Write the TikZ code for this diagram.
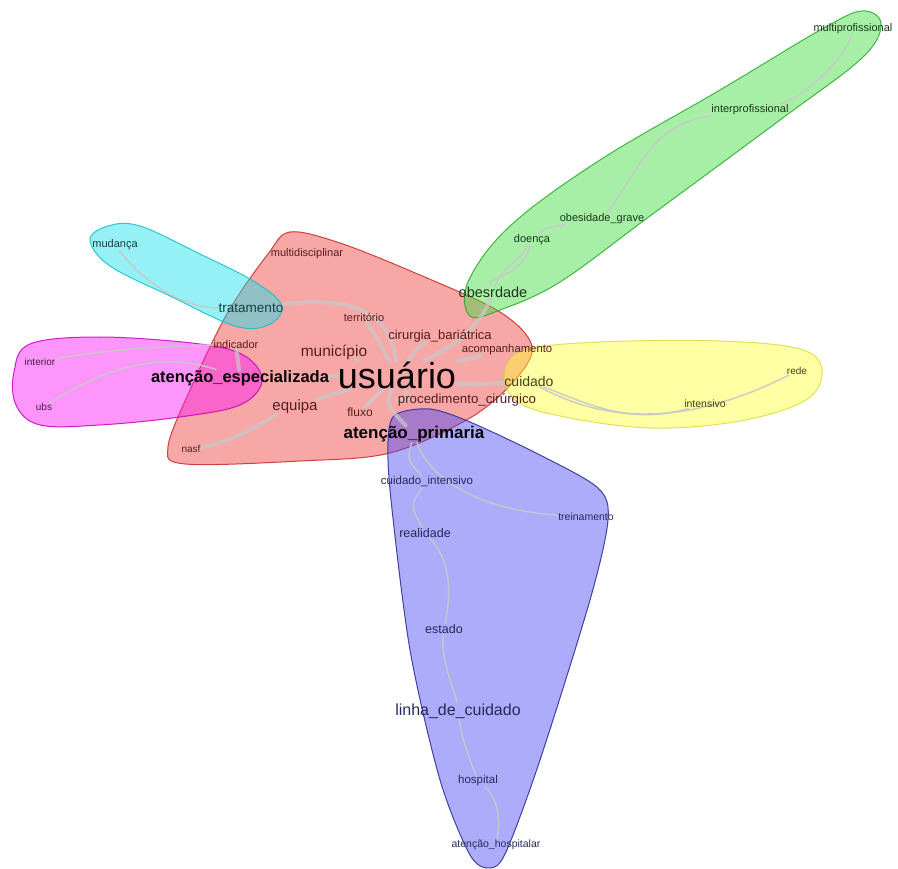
\documentclass[tikz,border=0pt]{standalone}
\usepackage{fontspec}
\setmainfont{Liberation Sans}
\pgfdeclarelayer{hull}
\pgfdeclarelayer{edge}
\pgfsetlayers{hull,edge,main}
\definecolor{redF}{RGB}{240,60,60}
\definecolor{redD}{RGB}{200,40,40}
\definecolor{cyanF}{RGB}{20,225,235}
\definecolor{cyanD}{RGB}{20,190,200}
\definecolor{magF}{RGB}{250,20,245}
\definecolor{magD}{RGB}{200,0,190}
\definecolor{greenF}{RGB}{60,220,60}
\definecolor{greenD}{RGB}{40,170,40}
\definecolor{yelF}{RGB}{255,255,50}
\definecolor{yelD}{RGB}{220,220,60}
\definecolor{bluF}{RGB}{70,70,245}
\definecolor{bluD}{RGB}{40,40,150}
\definecolor{edg}{RGB}{200,200,200}
\definecolor{tRed}{RGB}{85,30,30}
\definecolor{tGreen}{RGB}{25,55,25}
\definecolor{tBlue}{RGB}{40,40,90}
\definecolor{tYel}{RGB}{65,65,25}
\definecolor{tMag}{RGB}{75,25,75}
\definecolor{tCyan}{RGB}{25,65,65}
\tikzset{
  lbl/.style={inner sep=0.5pt},
  fs/.style={font=\fontsize{#1}{#1}\selectfont},
  fsb/.style={font=\fontsize{#1}{#1}\selectfont\bfseries},
  hullbase/.style={line width=1pt, fill opacity=0.45, draw opacity=0.85},
  thickedge/.style={draw=edg, line width=4pt, line cap=round, draw opacity=0.7},
  thinedge/.style={draw=edg, line width=1.5pt, line cap=round, draw opacity=0.9}
}
\begin{document}
\begin{tikzpicture}[x=1pt,y=-1pt]
\useasboundingbox (0,0) rectangle (898,869);
% ---- labels ----
\node[lbl,fs=11,tGreen] (multip) at (853,29) {multiprofissional};
\node[lbl,fs=11,tGreen] (interp) at (750,110) {interprofissional};
\node[lbl,fs=11,tGreen] (obgr) at (602,219) {obesidade\_grave};
\node[lbl,fs=11,tGreen] (doenca) at (532,240) {doença};
\node[lbl,fs=14.5,tGreen] (obes) at (493,292) {obesrdade};
\node[lbl,fs=11,tRed] (multi) at (307,254) {multidisciplinar};
\node[lbl,fs=11,tCyan] (mud) at (115,245) {mudança};
\node[lbl,fs=13.5,tCyan] (trat) at (251,308) {tratamento};
\node[lbl,fs=11,tRed] (terr) at (364,318) {território};
\node[lbl,fs=13,tRed] (cirb) at (440,336) {cirurgia\_bariátrica};
\node[lbl,fs=11.3,tRed] (acomp) at (507,350) {acompanhamento};
\node[lbl,fs=11,tRed] (indic) at (236,345) {indicador};
\node[lbl,fs=15.5,tRed] (munic) at (334,352) {município};
\node[lbl,fsb=16.5,black!90!tMag] (aesp) at (240,378) {atenção\_especializada};
\node[lbl,fs=36,black!90!tRed] (usu) at (397,375) {usuário};
\node[lbl,fs=10,tMag] (inter) at (40,362) {interior};
\node[lbl,fs=10,tMag] (ubs) at (44,407) {ubs};
\node[lbl,fs=15,tRed] (equipa) at (295,407) {equipa};
\node[lbl,fs=12,tRed] (fluxo) at (360,412) {fluxo};
\node[lbl,fs=13.3,tRed] (proc) at (467,400) {procedimento\_cirúrgico};
\node[lbl,fs=14,tYel] (cuid) at (529,381) {cuidado};
\node[lbl,fs=10,tYel] (rede) at (797,371) {rede};
\node[lbl,fs=10.5,tYel] (intens) at (705,404) {intensivo};
\node[lbl,fsb=17,black!90!tBlue] (aprim) at (414,434) {atenção\_primaria};
\node[lbl,fs=10,tRed] (nasf) at (191,449) {nasf};
\node[lbl,fs=11.5,tBlue] (cint) at (427,481) {cuidado\_intensivo};
\node[lbl,fs=10.5,tBlue] (trein) at (586,517) {treinamento};
\node[lbl,fs=12.5,tBlue] (real) at (425,533) {realidade};
\node[lbl,fs=12.5,tBlue] (estado) at (444,629) {estado};
\node[lbl,fs=16,tBlue] (linha) at (458,711) {linha\_de\_cuidado};
\node[lbl,fs=11.5,tBlue] (hosp) at (478,781) {hospital};
\node[lbl,fs=10.5,tBlue] (ahosp) at (496,845) {atenção\_hospitalar};
% ---- hulls ----
\begin{pgfonlayer}{hull}
\path[hullbase,fill=redF,draw=redD] plot[smooth cycle,tension=0.55] coordinates {
 (290,232) (340,243) (420,275) (500,312) (532,346) (515,380) (470,418) (390,453)
 (300,461) (185,464) (168,447) (190,390) (228,312) (268,254)};
\path[hullbase,fill=cyanF,draw=cyanD] plot[smooth cycle,tension=0.6] coordinates {
 (90,240) (108,226) (140,226) (200,254) (255,282) (282,306) (268,325) (235,326) (170,296) (110,266)};
\path[hullbase,fill=magF,draw=magD] plot[smooth cycle,tension=0.6] coordinates {
 (14,372) (30,344) (100,337) (200,344) (245,356) (262,381) (240,405) (180,417) (100,425) (40,425) (16,405)};
\path[hullbase,fill=greenF,draw=greenD] plot[smooth cycle,tension=0.6] coordinates {
 (470,316) (468,282) (510,226) (600,160) (720,90) (822,29) (862,11) (881,24) (862,58) (780,120) (650,216) (560,282) (500,310)};
\path[hullbase,fill=yelF,draw=yelD] plot[smooth cycle,tension=0.6] coordinates {
 (505,372) (525,350) (600,342) (720,341) (800,349) (822,370) (806,400) (740,421) (650,428) (560,416) (515,400)};
\path[hullbase,fill=bluF,draw=bluD] plot[smooth cycle,tension=0.5] coordinates {
 (388,442) (395,415) (430,409) (470,422) (540,455) (598,488) (608,520) (590,600) (540,760)
 (506,852) (490,868) (470,855) (440,780) (410,650) (391,500)};
\end{pgfonlayer}
% ---- edges ----
\begin{pgfonlayer}{edge}
\draw[thickedge] (aesp) -- (usu);
\draw[thickedge] (trat) .. controls (320,300) and (390,296) .. (usu);
\draw[thickedge] (usu) .. controls (420,345) .. (cirb);
\draw[thickedge] (usu) .. controls (455,345) and (478,330) .. (obes);
\draw[thickedge] (usu) .. controls (455,362) .. (acomp);
\draw[thickedge] (usu) .. controls (470,385) .. (cuid);
\draw[thickedge] (usu) .. controls (410,400) .. (proc);
\draw[thickedge] (usu) .. controls (386,405) .. (aprim);
\draw[thickedge] (usu) .. controls (330,395) .. (equipa);
\draw[thickedge] (usu) -- (fluxo);
\draw[thickedge] (usu) -- (munic);
\draw[thickedge] (usu) .. controls (375,335) .. (terr);
\draw[thickedge] (nasf) .. controls (240,440) and (265,420) .. (equipa);
\draw[thickedge] (indic) -- (aesp);
% cyan
\draw[thinedge] (mud) .. controls (150,290) and (190,308) .. (trat);
% magenta
\draw[thinedge] (ubs) .. controls (100,370) and (160,350) .. (aesp);
\draw[thinedge] (inter) .. controls (100,350) and (180,345) .. (indic);
% green
\draw[thinedge] (obes) .. controls (500,270) and (515,265) .. (doenca);
\draw[thinedge] (obes) .. controls (485,275) and (520,280) .. (doenca);
\draw[thinedge] (doenca) .. controls (545,228) .. (obgr);
\draw[thinedge] (obgr) .. controls (640,170) and (650,125) .. (interp);
\draw[thinedge] (interp) .. controls (800,100) and (845,60) .. (multip);
% yellow
\draw[thinedge] (cuid) .. controls (590,405) and (630,425) .. (intens);
\draw[thinedge] (cuid) .. controls (600,420) and (680,430) .. (rede);
% blue
\draw[thinedge] (aprim) .. controls (407,460) .. (cint);
\draw[thinedge] (aprim) .. controls (430,480) and (480,510) .. (trein);
\draw[thinedge] (cint) .. controls (410,505) .. (real);
\draw[thinedge] (real) .. controls (450,560) and (452,590) .. (estado);
\draw[thinedge] (estado) .. controls (440,660) and (455,690) .. (linha);
\draw[thinedge] (linha) .. controls (462,740) and (470,760) .. (hosp);
\draw[thinedge] (hosp) .. controls (500,800) and (500,825) .. (ahosp);
\end{pgfonlayer}
\end{tikzpicture}
\end{document}
